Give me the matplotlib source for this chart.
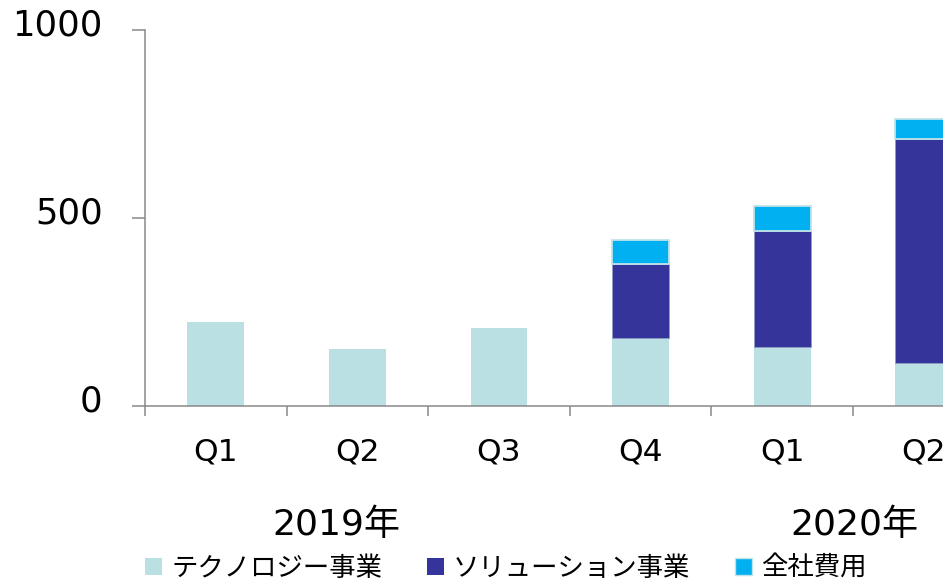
import matplotlib
matplotlib.use("Agg")
import matplotlib.pyplot as plt
from matplotlib.patches import Patch
import matplotlib.transforms as mtransforms
import numpy as np

plt.rcParams['font.family'] = ['DejaVu Sans', 'Noto Sans CJK JP']

quarters = ["Q1", "Q2", "Q3", "Q4", "Q1", "Q2"]
years = ["2019年", "2020年"]
series_names = ["テクノロジー事業", "ソリューション事業", "全社費用"]
technology = [223, 152, 207, 181, 157, 114]
solution = [0, 0, 0, 197, 308, 596]
corporate = [0, 0, 0, 63, 67, 53]
y_ticks = [0, 500, 1000]

c_tech = "#BAE0E3"
c_sol = "#35349A"
c_corp = "#00B0F0"
axis_col = "#898989"

W, H = 943, 583
fig = plt.figure(figsize=(W / 100, H / 100), dpi=100)
ax_left = 145 / W
ax_bottom = 1 - 406 / H
ax_height = (406 - 30) / H
ax_width = 8 * 141.6 / W
ax = fig.add_axes([ax_left, ax_bottom, ax_width, ax_height])

x = np.arange(len(quarters))
bw = 0.40
tech = np.array(technology)
sol = np.array(solution)
corp = np.array(corporate)

ax.bar(x, tech, bw, color=c_tech, edgecolor="none", zorder=2)
mask = sol > 0
ax.bar(x[mask], sol[mask], bw, bottom=tech[mask], color=c_sol,
       edgecolor="#8E9CC8", linewidth=0.6, zorder=2)
mask2 = corp > 0
ax.bar(x[mask2], corp[mask2], bw, bottom=(tech + sol)[mask2], color=c_corp,
       edgecolor="#BFE3EA", linewidth=1.3, zorder=2)

ax.set_xlim(-0.5, 7.5)
ax.set_ylim(0, 1000)

for s in ["top", "right"]:
    ax.spines[s].set_visible(False)
for s in ["left", "bottom"]:
    ax.spines[s].set_color(axis_col)
    ax.spines[s].set_linewidth(1.1)

ax.set_yticks(y_ticks)
ax.set_yticklabels([str(v) for v in y_ticks], fontsize=25.5)
ax.tick_params(axis="y", direction="out", length=9.5, width=1.1, color=axis_col,
               pad=21)

ax.set_xticks(np.arange(-0.5, 8.0, 1.0))
ax.set_xticklabels([])
ax.tick_params(axis="x", which="major", direction="out", length=7.5, width=1.1,
               color=axis_col)
ax.set_xticks(x, minor=True)
ax.set_xticklabels(quarters, minor=True, fontsize=22.5)
ax.tick_params(axis="x", which="minor", length=0, pad=23)

offset = mtransforms.ScaledTranslation(0, 4 / 100, fig.dpi_scale_trans)
for lbl in ax.get_yticklabels():
    lbl.set_verticalalignment("center")
    lbl.set_transform(lbl.get_transform() + offset)

fig.text(336 / W, 1 - 525 / H, years[0], fontsize=26, ha="center", va="center")
fig.text(854 / W, 1 - 525 / H, years[1], fontsize=26, ha="center", va="center")

handles = [Patch(facecolor=c_tech, edgecolor="none"),
           Patch(facecolor=c_sol, edgecolor="none"),
           Patch(facecolor=c_corp, edgecolor="#BFE3EA")]
fig.legend(handles, series_names, loc="center left",
           bbox_to_anchor=(145 / W, 1 - 569 / H), ncol=3, frameon=False,
           fontsize=19, handlelength=0.64, handleheight=0.64,
           handletextpad=0.35, columnspacing=1.7, borderpad=0, borderaxespad=0)

fig.savefig("out.png", dpi=100)
